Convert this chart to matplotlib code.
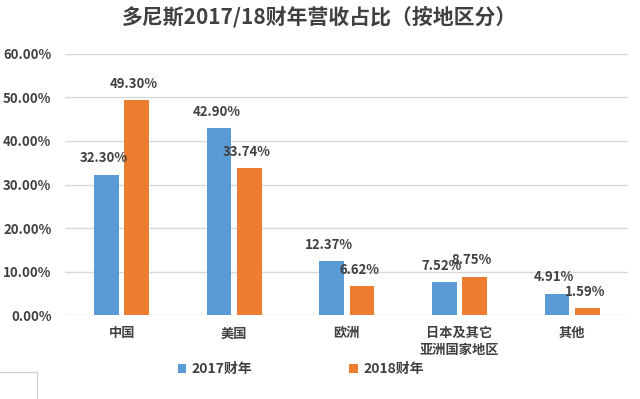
import numpy as np
import matplotlib
matplotlib.use("Agg")
import matplotlib.pyplot as plt
from matplotlib.lines import Line2D

plt.rcParams['font.family'] = ['Noto Sans CJK SC', 'DejaVu Sans']

regions = ["中国", "美国", "欧洲", "日本及其它\n亚洲国家地区", "其他"]
fy2017 = [32.30, 42.90, 12.37, 7.52, 4.91]
fy2018 = [49.30, 33.74, 6.62, 8.75, 1.59]
series_names = ["2017财年", "2018财年"]

C_BLUE = "#5B9BD5"
C_ORANGE = "#ED7D31"
TXT = "#404040"
WT = "semibold"

fig = plt.figure(figsize=(6.4, 3.99), dpi=100)
ax = fig.add_axes([0.102, 0.21, 0.88, 0.655])

x = np.arange(len(regions))
w = 0.22
off = 0.135
b1 = ax.bar(x - off, fy2017, w, color=C_BLUE, label=series_names[0], zorder=2)
b2 = ax.bar(x + off, fy2018, w, color=C_ORANGE, label=series_names[1], zorder=2)

for bars, vals in ((b1, fy2017), (b2, fy2018)):
    for r, v in zip(bars, vals):
        ax.annotate(f"{v:.2f}%", (r.get_x() + r.get_width() / 2, v),
                    xytext=(-2, 7), textcoords="offset points",
                    ha="center", va="bottom", fontsize=9.5, color=TXT,
                    fontweight=WT, zorder=3)

ax.set_ylim(0, 60)
ax.set_yticks(range(0, 61, 10))
ax.set_yticklabels([f"{t:.2f}%" for t in range(0, 61, 10)], fontsize=9.5,
                   color=TXT, fontweight=WT)
ax.set_xlim(-0.5, len(regions) - 0.5)
ax.set_xticks(x)
ax.set_xticklabels(regions, fontsize=9.5, color=TXT, linespacing=1.2, fontweight=WT)
ax.tick_params(length=0, pad=8)
ax.tick_params(axis="y", pad=10)
ax.grid(axis="y", color="#d9d9d9", lw=1, zorder=0)
for s in ax.spines.values():
    s.set_visible(False)

fig.suptitle("多尼斯2017/18财年营收占比（按地区分）", fontsize=15, fontweight="bold",
             color=TXT, y=0.985)

fig.legend(handles=[b1, b2], loc="center", bbox_to_anchor=(0.47, 0.075), ncol=2,
           frameon=False, handlelength=0.6, handleheight=0.6,
           columnspacing=7, handletextpad=0.4, labelcolor=TXT,
           prop={"size": 10, "weight": WT})

# faint box edge in the bottom-left corner
fig.add_artist(Line2D([0, 0.058], [0.068, 0.068], transform=fig.transFigure,
                      color="#cccccc", lw=0.8))
fig.add_artist(Line2D([0.058, 0.058], [0, 0.068], transform=fig.transFigure,
                      color="#cccccc", lw=0.8))

fig.savefig("out.png", dpi=100)
